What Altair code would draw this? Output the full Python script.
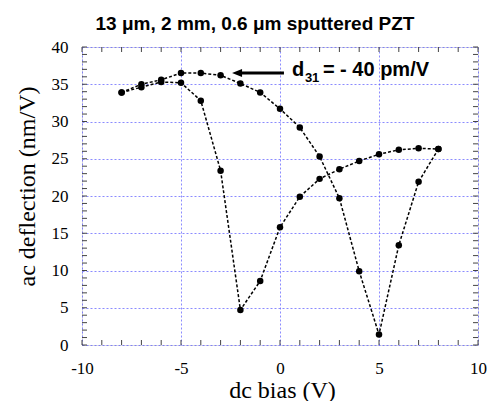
import altair as alt
import pandas as pd

# ---- data ----
bias_fwd = [-8, -7, -6, -5, -4, -3, -2, -1, 0, 1, 2, 3, 4, 5, 6, 7, 8]
defl_fwd = [33.9, 34.6, 35.3, 35.2, 32.8, 23.4, 4.7, 8.6, 15.8, 19.9, 22.3, 23.6, 24.7, 25.6, 26.2, 26.4, 26.3]
bias_rev = [8, 7, 6, 5, 4, 3, 2, 1, 0, -1, -2, -3, -4, -5, -6, -7, -8]
defl_rev = [26.3, 21.9, 13.4, 1.4, 9.9, 19.7, 25.3, 29.2, 31.7, 33.9, 35.1, 36.2, 36.5, 36.5, 35.6, 35.0, 33.9]

x_labels = [-10, -5, 0, 5, 10]
y_labels = [0, 5, 10, 15, 20, 25, 30, 35, 40]
x_minor = list(range(-10, 11))
y_minor = list(range(0, 41))

title_text = "13 μm, 2 mm, 0.6 μm sputtered PZT"
x_title = "dc bias (V)"
y_title = "ac deflection (nm/V)"
annot_main = ["d"]
annot_sub = ["31"]
annot_rest = ["= - 40 pm/V"]
annot_x = [0.6]
annot_y = [36.1]
arrow_start = [0.2]
arrow_end = [-2.0]
arrow_head = [-2.17]
arrow_y = [36.5]

W, H = 396, 298

curve = pd.DataFrame({
    "bias": bias_fwd + bias_rev,
    "defl": defl_fwd + defl_rev,
    "branch": ["fwd"] * len(bias_fwd) + ["rev"] * len(bias_rev),
    "order": list(range(len(bias_fwd))) + list(range(len(bias_rev))),
})

xs = alt.Scale(domain=[-10, 10], nice=False, zero=False)
ys = alt.Scale(domain=[0, 40], nice=False, zero=False)

grid_kw = dict(grid=True, gridColor="#5a5aff", gridDash=[2, 2], gridWidth=1, gridOpacity=0.7)

x_axis = alt.Axis(values=x_labels, ticks=False, tickSize=0, domain=False, labelPadding=15,
                  labelExpr="'' + datum.value", labelFlush=False,
                  labelFont="Liberation Serif", labelFontSize=17, labelColor="black",
                  title=x_title, titleFont="Liberation Serif", titleFontSize=24,
                  titleFontWeight="normal", titleColor="black", titleX=200, titleY=52,
                  titleBaseline="alphabetic", titleAlign="center", **grid_kw)
y_axis = alt.Axis(values=y_labels, ticks=False, tickSize=0, domain=False, labelPadding=14,
                  labelExpr="'' + datum.value", labelFlush=False,
                  labelFont="Liberation Serif", labelFontSize=17, labelColor="black",
                  title=y_title, titleFont="Liberation Serif", titleFontSize=24,
                  titleFontWeight="normal", titleColor="black", titleX=-48, titleY=139,
                  titleAngle=270, titleBaseline="alphabetic", titleAlign="center", **grid_kw)


def X(field):
    return alt.X(field, scale=xs, axis=x_axis)


def Y(field):
    return alt.Y(field, scale=ys, axis=y_axis)


lines = alt.Chart(curve).mark_line(color="black", strokeWidth=1.5, strokeDash=[3, 2]).encode(
    x=X("bias:Q"), y=Y("defl:Q"), detail="branch:N", order="order:Q",
)
points = alt.Chart(curve).mark_circle(color="black", size=42, opacity=1).encode(
    x=X("bias:Q"), y=Y("defl:Q"),
)

xm = pd.DataFrame({"v": x_minor})
ym = pd.DataFrame({"v": y_minor})
tick_col = "#444444"
t_bottom = alt.Chart(xm).mark_rule(color=tick_col, strokeWidth=1).encode(
    x=X("v:Q"), y=alt.value(H), y2=alt.value(H - 5))
t_top = alt.Chart(xm).mark_rule(color=tick_col, strokeWidth=1).encode(
    x=X("v:Q"), y=alt.value(0), y2=alt.value(5))
t_left = alt.Chart(ym).mark_rule(color=tick_col, strokeWidth=1).encode(
    y=Y("v:Q"), x=alt.value(0), x2=alt.value(5))
t_right = alt.Chart(ym).mark_rule(color=tick_col, strokeWidth=1).encode(
    y=Y("v:Q"), x=alt.value(W), x2=alt.value(W - 5))

arrow_df = pd.DataFrame({"x": arrow_start, "x2": arrow_end, "y": arrow_y, "h": arrow_head})
arrow_line = alt.Chart(arrow_df).mark_rule(color="black", strokeWidth=3).encode(
    x=X("x:Q"), x2="x2:Q", y=Y("y:Q"))
arrow_tip = alt.Chart(arrow_df).mark_point(
    shape="M-1,0L1,-0.8L1,0.8Z", filled=True, color="black", size=100, opacity=1, strokeWidth=0
).encode(x=X("h:Q"), y=Y("y:Q"))

ann_df = pd.DataFrame({"x": annot_x, "y": annot_y, "a": annot_main, "b": annot_sub, "c": annot_rest})
txt_kw = dict(font="Liberation Sans", fontWeight="bold", color="black", align="left", baseline="alphabetic")
ann_a = alt.Chart(ann_df).mark_text(fontSize=20, **txt_kw).encode(
    x=X("x:Q"), y=Y("y:Q"), text="a:N")
ann_b = alt.Chart(ann_df).mark_text(fontSize=13, dx=13, dy=6, **txt_kw).encode(
    x=X("x:Q"), y=Y("y:Q"), text="b:N")
ann_c = alt.Chart(ann_df).mark_text(fontSize=20, dx=31, **txt_kw).encode(
    x=X("x:Q"), y=Y("y:Q"), text="c:N")

title = alt.Chart(pd.DataFrame({"t": [title_text]})).mark_text(
    font="Liberation Sans", fontWeight="bold", fontSize=19, color="black",
    align="center", baseline="alphabetic"
).encode(text="t:N", x=alt.value(173), y=alt.value(-17))

chart = alt.layer(
    lines, points, t_bottom, t_top, t_left, t_right,
    arrow_line, arrow_tip, ann_a, ann_b, ann_c, title
).properties(
    width=W, height=H,
    autosize=alt.AutoSizeParams(type="none"),
    padding={"left": 74, "top": 39, "right": 10, "bottom": 56},
).configure_view(stroke="#444444", strokeWidth=1).configure(background="white")

chart.save("out.html", embed_options={"renderer": "svg", "actions": False})
